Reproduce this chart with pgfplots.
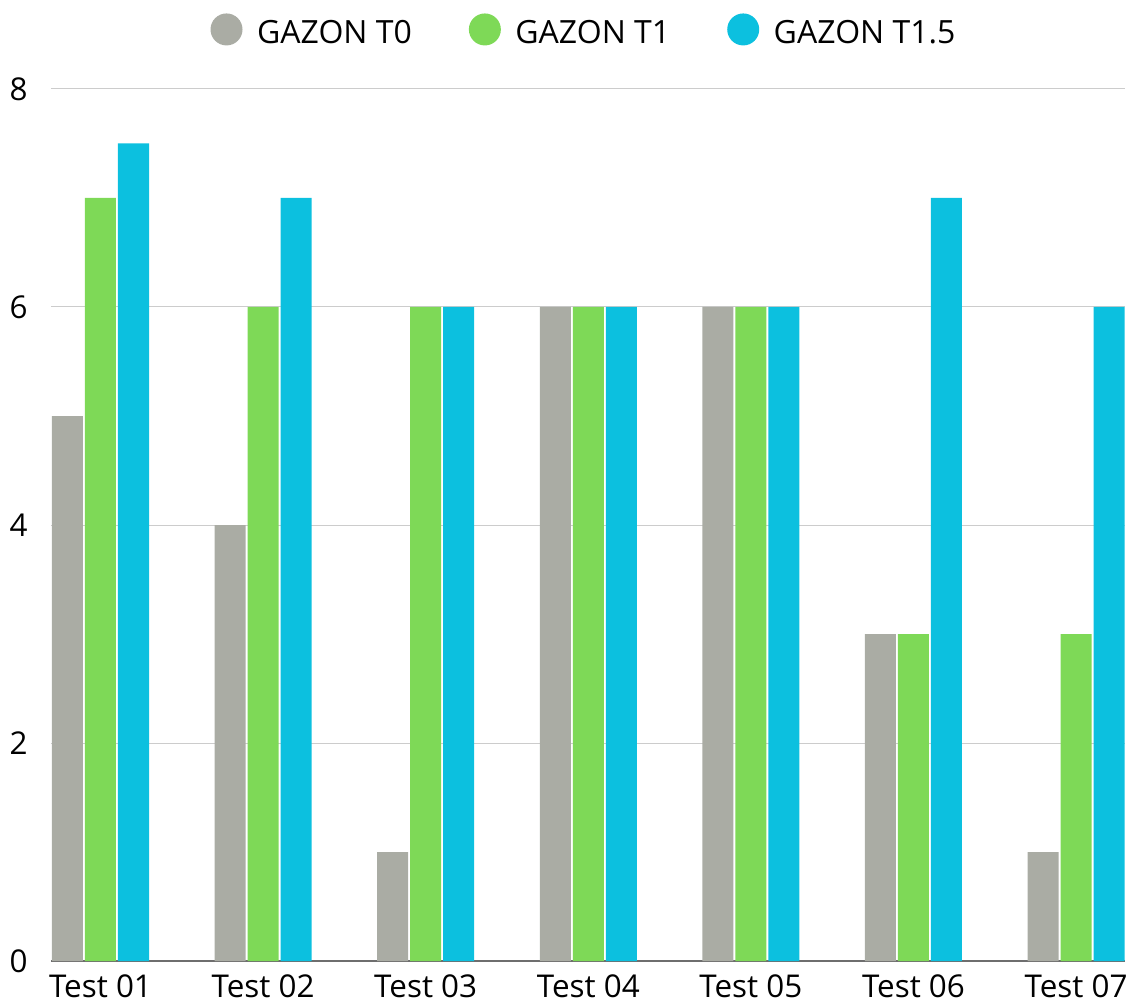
\documentclass[border=0pt]{standalone}
\usepackage{fontspec}
\setmainfont{Open Sans}
\usepackage{pgfplots}
\pgfplotsset{compat=1.18}
\definecolor{cT0}{HTML}{AAACA4}
\definecolor{cT1}{HTML}{7ED957}
\definecolor{cT2}{HTML}{0CC0DF}
\definecolor{gridc}{HTML}{CCCCCC}
\definecolor{basec}{HTML}{6E6E6E}
\begin{document}
\begin{tikzpicture}
\begin{axis}[
  name=ax,
  scale only axis, width=537pt, height=436pt,
  xmin=-0.3044, xmax=6.301, ymin=0, ymax=8,
  ytick={0,2,4,6,8},
  xtick={0,1,2,3,4,5,6},
  xticklabels={Test 01,Test 02,Test 03,Test 04,Test 05,Test 06,Test 07},
  axis line style={draw=none},
  major tick length=0pt,
  ymajorgrids, grid style={gridc, line width=0.5pt},
  extra y ticks={0}, extra y tick labels={},
  extra y tick style={grid style={basec, line width=1pt}},
  tick label style={font=\fontsize{15.7}{18}\selectfont},
  /pgf/number format/assume math mode=true,
  xticklabel style={anchor=base, yshift=-18.3pt, inner sep=0pt},
  yticklabel style={anchor=east, inner sep=0pt, xshift=-11.5pt},
  ybar, bar width=0.1907,
  legend columns=3,
  legend style={at={(rel axis cs:0.4953,1)}, anchor=center, yshift=29.5pt,
    draw=none, fill=none, font=\fontsize{16}{19}\selectfont,
    nodes={inner sep=0pt},
    /tikz/every odd column/.append style={column sep=7.25pt},
    /tikz/every even column/.append style={column sep=28.5pt}},
  legend image code/.code={\fill[#1, draw=none] (8pt,0.2em) circle (8pt);},
]
\addplot[fill=cT0, draw=none, bar shift=-0.203] coordinates {(0,5) (1,4) (2,1) (3,6) (4,6) (5,3) (6,1)};
\addplot[fill=cT1, draw=none, bar shift=0] coordinates {(0,7) (1,6) (2,6) (3,6) (4,6) (5,3) (6,3)};
\addplot[fill=cT2, draw=none, bar shift=0.203] coordinates {(0,7.5) (1,7) (2,6) (3,6) (4,6) (5,7) (6,6)};
\legend{GAZON T0, GAZON T1, GAZON T1.5}
\end{axis}
\pgfresetboundingbox
\path[use as bounding box] ([xshift=-25.5pt,yshift=-20.5pt]ax.south west) rectangle ([xshift=4.5pt,yshift=44.5pt]ax.north east);
\end{tikzpicture}
\end{document}
